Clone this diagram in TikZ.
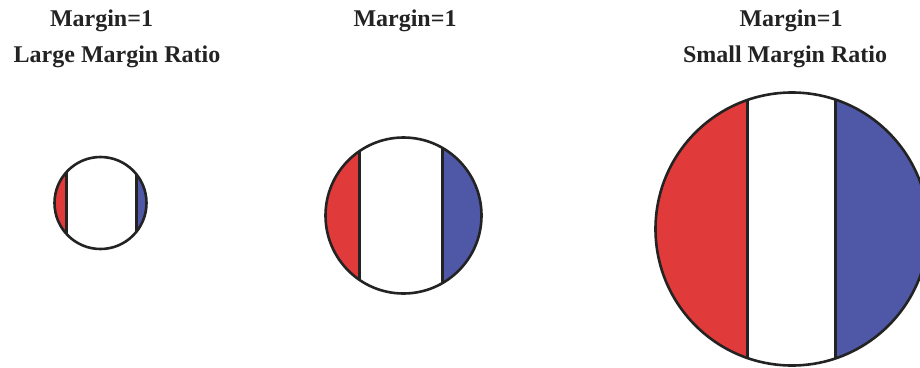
\documentclass[tikz,border=0pt]{standalone}
\usepackage{fontspec}
\setmainfont{Liberation Serif}
\definecolor{segred}{RGB}{225,58,58}
\definecolor{segblue}{RGB}{78,88,166}
\definecolor{outline}{RGB}{35,35,35}
\newcommand\flagdisc[5]{%
  \begin{scope}
    \clip (#1,#2) circle (#3);
    \fill[white] (#1,#2) circle (#3);
    \fill[segred] (#1-#3,#2-#3) rectangle (#4,#2+#3);
    \fill[segblue] (#5,#2-#3) rectangle (#1+#3,#2+#3);
    \draw[divider] (#4,#2-#3) -- (#4,#2+#3);
    \draw[divider] (#5,#2-#3) -- (#5,#2+#3);
  \end{scope}
  \draw[rim] (#1,#2) circle (#3);
}
\tikzset{
  label/.style={font=\fontsize{24}{28}\selectfont\bfseries, text=outline, anchor=base, inner sep=0pt},
  divider/.style={draw=outline, line width=2.6pt},
  rim/.style={draw=outline, line width=2.6pt}
}
\begin{document}
\begin{tikzpicture}[x=1pt,y=-1pt]
  \clip (0,0) rectangle (920,367);
  \useasboundingbox (0,0) rectangle (920,367);
  \fill[white] (0,0) rectangle (920,367);
  \node[label] (m1) at (101.5,26) {Margin=1};
  \node[label] (r1) at (117,62) {Large Margin Ratio};
  \node[label] (m2) at (405,26) {Margin=1};
  \node[label] (m3) at (791,26) {Margin=1};
  \node[label] (r3) at (785,62) {Small Margin Ratio};
  \flagdisc{100.5}{203}{46}{66.7}{136.7}
  \flagdisc{403.5}{215.5}{78}{359.3}{442.3}
  \flagdisc{792}{229}{136.5}{747.3}{835.7}
\end{tikzpicture}
\end{document}
